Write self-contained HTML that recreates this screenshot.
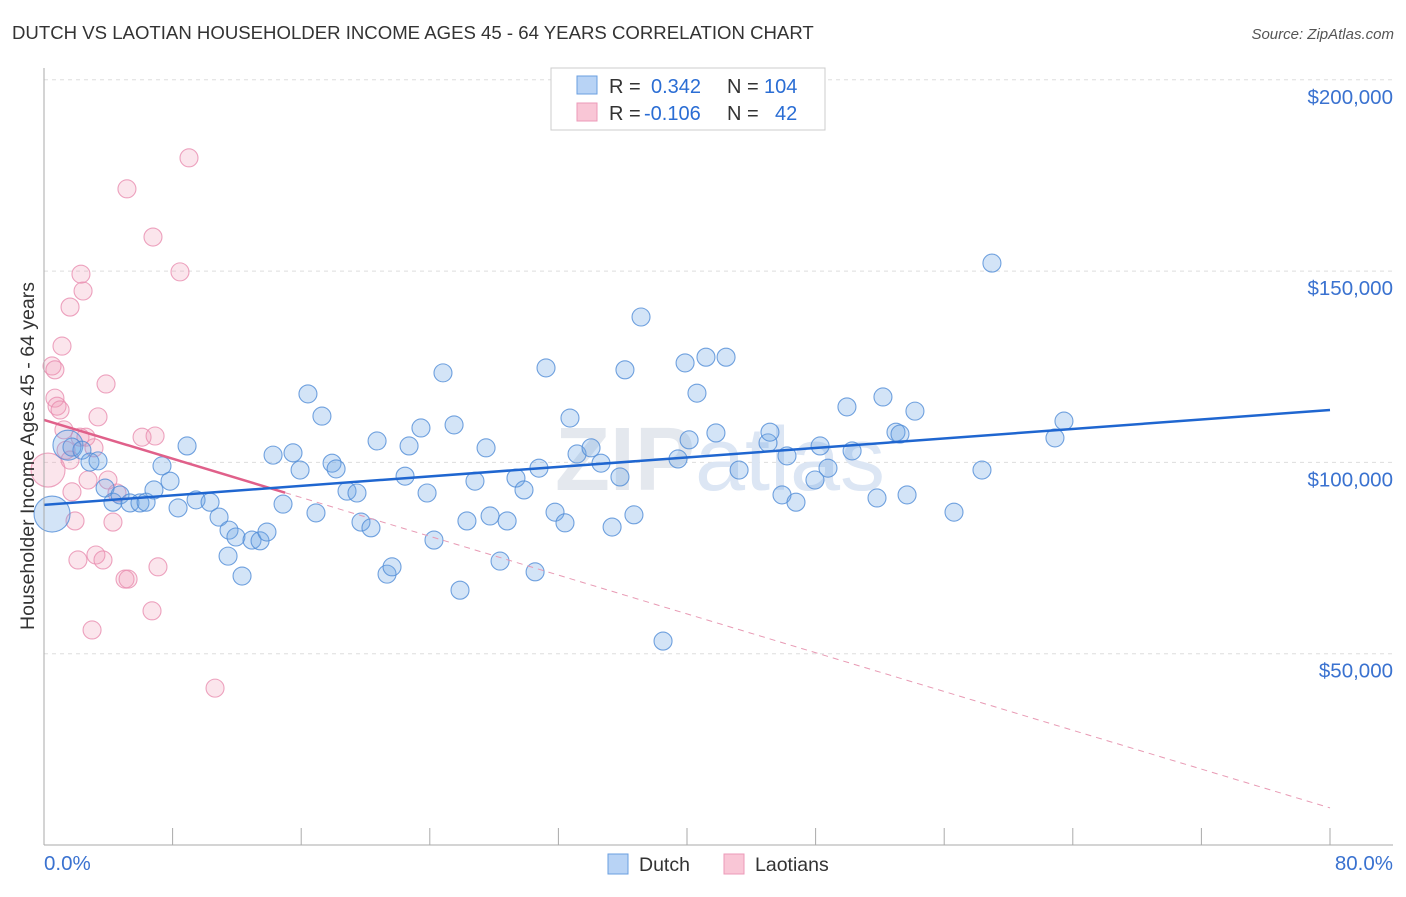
<!DOCTYPE html>
<html><head><meta charset="utf-8"><style>
body{margin:0;background:#fff;font-family:"Liberation Sans",sans-serif;}
svg text{font-family:"Liberation Sans",sans-serif;}
</style></head><body>
<svg width="1406" height="892" viewBox="0 0 1406 892">
<text x="12" y="39" font-size="18.6" fill="#333">DUTCH VS LAOTIAN HOUSEHOLDER INCOME AGES 45 - 64 YEARS CORRELATION CHART</text>
<text x="1394" y="39" font-size="15" fill="#555" text-anchor="end" font-style="italic">Source: ZipAtlas.com</text>
<g id="grid"></g>
<text x="720" y="490" font-size="90" fill="#e4e8ee" text-anchor="middle" font-weight="bold">ZIP<tspan fill="#dce6f4" font-weight="normal">atlas</tspan></text>
<g id="dots"></g>
<g id="trends"></g>
<g id="axes"></g>
<text x="34" y="456" font-size="19.5" fill="#333" text-anchor="middle" transform="rotate(-90 34 456)">Householder Income Ages 45 - 64 years</text>
<g>
<rect x="551" y="68" width="274" height="62" fill="#fff" stroke="#ccc"/>
<rect x="577" y="76" width="20" height="18" fill="#b8d3f5" stroke="#6a9fe0"/>
<rect x="577" y="103" width="20" height="18" fill="#f9c6d6" stroke="#ec9ab8"/>
<text x="609" y="93" font-size="20" fill="#333">R =</text>
<text x="651" y="93" font-size="20" fill="#2a6dd4">0.342</text>
<text x="727" y="93" font-size="20" fill="#333">N =</text>
<text x="764" y="93" font-size="20" fill="#2a6dd4">104</text>
<text x="609" y="120" font-size="20" fill="#333">R =</text>
<text x="644" y="120" font-size="20" fill="#2a6dd4">-0.106</text>
<text x="727" y="120" font-size="20" fill="#333">N =</text>
<text x="775" y="120" font-size="20" fill="#2a6dd4">42</text>
</g>
<g>
<rect x="608" y="854" width="20" height="20" fill="#b8d3f5" stroke="#6a9fe0"/>
<text x="639" y="871" font-size="19.5" fill="#333">Dutch</text>
<rect x="724" y="854" width="20" height="20" fill="#f9c6d6" stroke="#ec9ab8"/>
<text x="755" y="871" font-size="19.5" fill="#333">Laotians</text>
</g>
</svg>
<script>
const yTicks=[50,100,150,200];
const yTickLabels=["$50,000","$100,000","$150,000","$200,000"];
const xTickLabels=["0.0%","80.0%"];
const dutchX=[0.50,1.49,1.74,2.36,2.86,3.36,3.80,4.29,4.73,5.35,5.97,6.35,6.84,7.34,7.84,8.34,8.90,9.46,10.33,10.89,11.51,11.45,11.94,12.32,12.94,13.44,13.87,14.25,14.87,15.49,15.93,16.42,16.92,17.29,17.92,18.17,18.85,19.47,19.72,20.34,20.72,21.34,21.65,22.46,22.71,23.45,23.83,24.26,24.82,25.51,25.88,26.31,26.81,27.50,27.75,28.37,28.81,29.36,29.86,30.55,30.79,31.23,31.79,32.41,32.72,33.16,34.03,34.65,35.34,35.83,36.14,36.70,37.14,38.51,39.44,39.88,40.13,40.62,41.18,41.80,42.43,43.24,45.04,45.16,45.91,46.22,46.78,47.96,48.28,48.77,49.95,50.27,51.82,52.19,53.00,53.25,53.69,54.18,56.61,58.35,58.97,62.89,63.45];
const dutchY=[86.5,104.5,104.0,103.2,100.1,100.4,93.3,89.6,91.5,89.4,89.4,89.6,92.8,99.1,95.1,88.1,104.3,90.2,89.6,85.7,82.3,75.5,80.5,70.3,79.7,79.5,81.8,101.9,89.1,102.5,98.0,117.9,86.8,112.1,99.8,98.3,92.5,92.0,84.4,82.9,105.6,70.8,72.7,96.4,104.3,109.0,92.0,79.7,123.4,109.8,66.6,84.7,95.1,103.8,86.0,74.2,84.7,95.9,92.8,71.4,98.5,124.7,87.0,84.2,111.6,102.2,103.8,99.8,83.1,96.2,124.2,86.3,138.0,53.3,100.9,126.0,105.9,118.1,127.5,107.7,127.5,98.0,105.1,107.9,91.5,101.7,89.6,95.4,104.3,98.5,114.5,103.0,90.7,117.1,107.9,107.4,91.5,113.4,87.0,98.0,152.1,106.4,110.8];
const laoX=[0.25,0.50,0.68,0.68,0.81,1.00,1.24,1.37,1.62,1.74,1.93,2.11,2.30,2.43,1.62,1.12,2.99,3.23,3.36,3.67,3.86,3.98,4.29,4.54,5.04,5.23,5.16,6.10,6.72,6.78,6.91,7.09,8.46,9.02,10.64,2.24,2.61,2.74,3.11];
const laoY=[98.0,125.2,124.2,116.8,114.7,113.7,108.5,103.2,100.6,92.3,84.7,74.5,149.2,144.8,140.6,130.4,56.2,75.8,111.9,74.5,120.5,95.4,84.4,92.0,69.5,69.5,171.5,106.6,61.2,158.9,106.9,72.7,149.8,179.6,41.0,106.6,106.6,95.4,103.8];
const dutchTrend=[88.9,113.7];
const laoTrend=[111.1,9.7];
const laoSolidEnd=15;
const NS='http://www.w3.org/2000/svg';
function sx(p){return 44+p/80*1286;}
function sy(v){return 845-v/50*191.3;}
function mk(tag,attrs,parent){const e=document.createElementNS(NS,tag);for(const k in attrs)e.setAttribute(k,attrs[k]);parent.appendChild(e);return e;}
const grid=document.getElementById('grid'),axes=document.getElementById('axes'),dots=document.getElementById('dots'),trends=document.getElementById('trends');
yTicks.forEach((t,i)=>{
 const l=mk('line',{x1:44,x2:1393,y1:sy(t),y2:sy(t),stroke:'#ddd','stroke-dasharray':'4 4'},grid);
 
 
 const tx=mk('text',{x:1393,y:sy(t)+24,'font-size':20.5,fill:'#3a72d0','text-anchor':'end'},axes);
 tx.textContent=yTickLabels[i];
 
 
});
const ax=mk('line',{x1:44,x2:1393,y1:845,y2:845,stroke:'#aaa'},axes);


const ay=mk('line',{x1:44,x2:44,y1:68,y2:845,stroke:'#aaa'},axes);


for(let i=0;i<=10;i++){
 const tk=mk('line',{x1:sx(i*8),x2:sx(i*8),y1:828,y2:845,stroke:'#aaa'},axes);
 
 
}
const xl0=mk('text',{x:44,y:870,'font-size':20.5,fill:'#3a72d0'},axes);xl0.textContent=xTickLabels[0];


const xl1=mk('text',{x:1393,y:870,'font-size':20.5,fill:'#3a72d0','text-anchor':'end'},axes);xl1.textContent=xTickLabels[1];


laoX.forEach((x,i)=>{
 const c=mk('circle',{cx:sx(x),cy:sy(laoY[i]),r:i===0?17:9,fill:'rgba(240,150,180,0.25)',stroke:'rgba(232,140,175,0.8)','stroke-width':1.1},dots);
 
 
});
dutchX.forEach((x,i)=>{
 const c=mk('circle',{cx:sx(x),cy:sy(dutchY[i]),r:i===0?18:(i===1?15:9),fill:'rgba(110,165,230,0.3)',stroke:'rgba(80,140,215,0.8)','stroke-width':1.1},dots);
 
 
});
const ls=(p)=>laoTrend[0]+(laoTrend[1]-laoTrend[0])*p/80;
const lt1=mk('line',{x1:sx(0),y1:sy(laoTrend[0]),x2:sx(laoSolidEnd),y2:sy(ls(laoSolidEnd)),stroke:'#e0608a','stroke-width':2.5},trends);


const lt2=mk('line',{x1:sx(laoSolidEnd),y1:sy(ls(laoSolidEnd)),x2:sx(80),y2:sy(laoTrend[1]),stroke:'#e89ab4','stroke-width':1,'stroke-dasharray':'6 5'},trends);


const dt=mk('line',{x1:sx(0),y1:sy(dutchTrend[0]),x2:sx(80),y2:sy(dutchTrend[1]),stroke:'#1f66d0','stroke-width':2.5},trends);


</script>
</body></html>
